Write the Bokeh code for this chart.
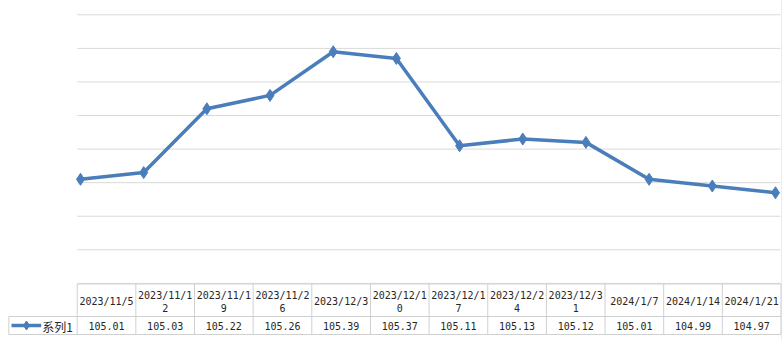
from bokeh.plotting import figure
from bokeh.models import Range1d, ColumnDataSource
from bokeh.core.properties import value
from bokeh.embed import file_html
from bokeh.resources import INLINE

# ---- data ----
categories = ["2023/11/5", "2023/11/12", "2023/11/19", "2023/11/26", "2023/12/3",
              "2023/12/10", "2023/12/17", "2023/12/24", "2023/12/31", "2024/1/7",
              "2024/1/14", "2024/1/21"]
series_name = "系列1"
values = [105.01, 105.03, 105.22, 105.26, 105.39, 105.37, 105.11, 105.13, 105.12,
          105.01, 104.99, 104.97]
value_labels = ["105.01", "105.03", "105.22", "105.26", "105.39", "105.37", "105.11",
                "105.13", "105.12", "105.01", "104.99", "104.97"]
grid_values = [104.7, 104.8, 104.9, 105.0, 105.1, 105.2, 105.3, 105.4, 105.5]

# ---- styles ----
LINE_COLOR = "#4a7ebb"
GRID_COLOR = "#d9d9d9"
BORDER_COLOR = "#d0d0d0"
TEXT_COLOR = "#262626"
NUM_FONT = value("DejaVu Sans Mono")
CJK_FONT = value("Noto Sans CJK SC")
FS = "10px"

W, H = 782, 340
n = len(categories)
xs = list(range(n))

p = figure(width=W, height=H, output_backend="svg", toolbar_location=None,
           x_range=Range1d(-1.2662, 11.111), y_range=Range1d(104.5299, 105.5426),
           x_axis_location=None, y_axis_location=None, min_border=0,
           outline_line_color=None, background_fill_color="white",
           border_fill_color="white")
p.xgrid.visible = False
p.ygrid.visible = False

# table ranges: columns in index units, rows in page-pixel units
p.extra_x_ranges = {"tx": Range1d(-1.3078, 12.026)}
p.extra_y_ranges = {"ty": Range1d(340, 0)}

# gridlines
p.segment(x0=[-0.052] * len(grid_values), x1=[11.079] * len(grid_values),
          y0=grid_values, y1=grid_values, line_color=GRID_COLOR, line_width=1)

# chart border at right
p.segment(x0=[11.103], x1=[11.103], y0=[104.5299], y1=[105.5426],
          line_color="#d9d9d9", line_width=1)

# series
src = ColumnDataSource(dict(x=xs, y=values))
p.line("x", "y", source=src, line_color=LINE_COLOR, line_width=3.5, line_join="round")
p.scatter("x", "y", source=src, marker="diamond", size=12, fill_color=LINE_COLOR,
          line_color=LINE_COLOR)

# ---- data table ----
TOP, MID, BOT = 283.5, 316, 334
LEFT = -1.166
# horizontal lines
p.segment(x0=[0, LEFT, LEFT], x1=[n, n, n], y0=[TOP, MID, BOT], y1=[TOP, MID, BOT],
          x_range_name="tx", y_range_name="ty", line_color=BORDER_COLOR, line_width=1)
# vertical lines
p.segment(x0=list(range(n + 1)), x1=list(range(n + 1)), y0=[TOP] * (n + 1),
          y1=[BOT] * (n + 1), x_range_name="tx", y_range_name="ty",
          line_color=BORDER_COLOR, line_width=1)
p.segment(x0=[LEFT], x1=[LEFT], y0=[MID], y1=[BOT], x_range_name="tx",
          y_range_name="ty", line_color=BORDER_COLOR, line_width=1)

# header text (wrapped like the original at 9 characters)
l1x, l1y, l1t, l2x, l2y, l2t = [], [], [], [], [], []
for i, c in enumerate(categories):
    first, rest = c[:9], c[9:]
    l1x.append(i + 0.5)
    l1t.append(first)
    if rest:
        l1y.append(294.5)
        l2x.append(i + 0.5)
        l2y.append(307)
        l2t.append(rest)
    else:
        l1y.append(300.5)
p.text(x=l1x, y=l1y, text=l1t, x_range_name="tx", y_range_name="ty",
       text_align="center", text_baseline="middle", text_font=NUM_FONT,
       text_font_size=FS, text_color=TEXT_COLOR)
p.text(x=l2x, y=l2y, text=l2t, x_range_name="tx", y_range_name="ty",
       text_align="center", text_baseline="middle", text_font=NUM_FONT,
       text_font_size=FS, text_color=TEXT_COLOR)

# value row
p.text(x=[i + 0.5 for i in xs], y=[325.5] * n, text=value_labels, x_range_name="tx",
       y_range_name="ty", text_align="center", text_baseline="middle",
       text_font=NUM_FONT, text_font_size=FS, text_color=TEXT_COLOR)

# legend key
p.line(x=[-1.12, -0.614], y=[325, 325], x_range_name="tx", y_range_name="ty",
       line_color=LINE_COLOR, line_width=3.5)
p.scatter(x=[-0.864], y=[325], x_range_name="tx", y_range_name="ty",
          marker="diamond", size=9, fill_color=LINE_COLOR, line_color=LINE_COLOR)
p.text(x=[-0.595], y=[325.5], text=[series_name], x_range_name="tx",
       y_range_name="ty", text_align="left", text_baseline="middle",
       text_font=CJK_FONT, text_font_size="12px", text_color=TEXT_COLOR)

open("out.html", "w").write(file_html(p, INLINE))
